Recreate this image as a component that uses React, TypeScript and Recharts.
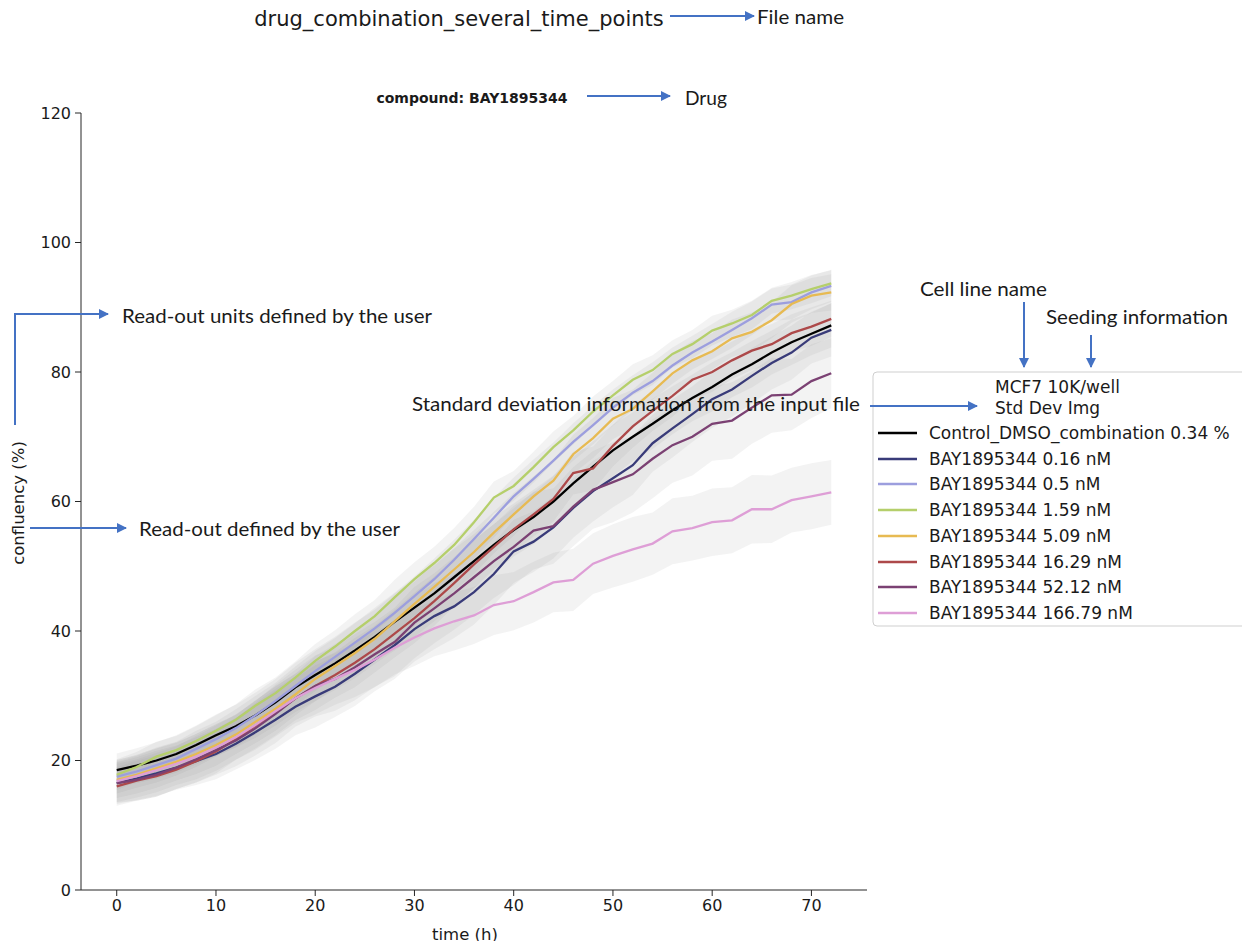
import React from 'react';
import { ComposedChart, Line, Area, XAxis, YAxis } from 'recharts';

// ---- data (time in hours, confluency in %) ----
const times = [0, 2, 4, 6, 8, 10, 12, 14, 16, 18, 20, 22, 24, 26, 28, 30, 32, 34, 36, 38, 40, 42, 44, 46, 48, 50, 52, 54, 56, 58, 60, 62, 64, 66, 68, 70, 72];

const ctrl = [18.5, 19.2, 20.0, 21.0, 22.4, 23.9, 25.3, 27.0, 29.0, 31.3, 33.2, 35.0, 37.0, 39.1, 41.4, 43.6, 45.8, 48.3, 50.8, 53.3, 55.6, 57.6, 60.0, 62.8, 65.4, 67.9, 70.0, 72.0, 74.1, 76.0, 77.7, 79.6, 81.2, 83.0, 84.6, 85.9, 87.2];
const d016 = [16.5, 17.2, 18.0, 18.9, 19.9, 21.0, 22.6, 24.4, 26.3, 28.3, 29.9, 31.4, 33.4, 35.6, 37.8, 40.3, 42.3, 43.8, 46.0, 48.8, 52.3, 53.8, 56.0, 59.0, 61.6, 63.6, 65.6, 69.0, 71.3, 73.5, 75.8, 77.3, 79.4, 81.4, 83.0, 85.3, 86.5];
const d05 = [17.5, 18.3, 19.3, 20.3, 21.8, 23.3, 25.0, 27.0, 29.2, 31.5, 33.8, 36.0, 38.2, 40.4, 42.8, 45.4, 48.0, 51.0, 54.2, 57.5, 60.8, 63.5, 66.3, 69.2, 71.8, 74.5, 76.8, 78.6, 81.0, 83.0, 84.7, 86.5, 88.3, 90.4, 90.8, 92.3, 93.3];
const d159 = [17.8, 19.0, 20.6, 21.6, 23.0, 24.6, 26.3, 28.5, 30.4, 32.8, 35.4, 37.6, 40.0, 42.3, 45.2, 48.0, 50.5, 53.3, 56.8, 60.6, 62.4, 65.3, 68.4, 71.0, 73.9, 76.4, 78.8, 80.3, 82.8, 84.3, 86.4, 87.5, 88.8, 91.0, 91.8, 92.8, 93.7];
const d509 = [17.0, 17.8, 18.8, 19.8, 21.0, 22.4, 24.0, 26.0, 28.0, 30.2, 32.6, 34.6, 36.6, 38.8, 41.5, 44.2, 46.8, 49.5, 52.2, 55.2, 58.0, 60.8, 63.2, 67.3, 69.8, 72.8, 74.3, 77.0, 79.8, 81.8, 83.2, 85.2, 86.2, 88.0, 90.5, 91.8, 92.3];
const d1629 = [16.0, 16.9, 17.6, 18.6, 19.9, 21.4, 23.3, 25.4, 27.5, 29.6, 31.5, 33.2, 35.1, 37.2, 39.6, 42.0, 44.6, 47.4, 50.3, 53.0, 55.7, 58.0, 60.4, 64.4, 65.1, 68.6, 71.6, 74.0, 76.3, 78.8, 80.0, 81.8, 83.3, 84.3, 86.0, 87.0, 88.2];
const d5212 = [16.5, 17.0, 17.8, 18.9, 20.2, 21.6, 23.1, 25.0, 27.2, 29.6, 31.5, 32.6, 34.4, 36.4, 38.3, 41.3, 43.5, 45.8, 48.3, 50.8, 53.0, 55.5, 56.2, 59.2, 61.8, 63.0, 64.2, 66.6, 68.7, 70.0, 72.0, 72.5, 74.5, 76.4, 76.5, 78.6, 79.8];
const d16679 = [16.8, 17.6, 18.5, 19.5, 20.6, 22.0, 23.6, 25.5, 27.6, 29.6, 31.2, 32.6, 34.0, 35.6, 37.4, 39.0, 40.4, 41.5, 42.4, 44.0, 44.6, 46.0, 47.5, 47.9, 50.4, 51.6, 52.6, 53.5, 55.4, 55.9, 56.8, 57.1, 58.8, 58.8, 60.2, 60.8, 61.4];

// standard deviations (image-based)
const ctrlSd = [2.6, 2.7, 2.8, 2.9, 3.0, 3.2, 3.3, 3.5, 3.6, 3.8, 4.0, 4.1, 4.3, 4.2, 4.4, 4.5, 4.3, 4.4, 4.2, 4.3, 4.1, 4.2, 4.0, 4.1, 3.9, 4.0, 3.8, 3.9, 3.7, 3.6, 3.8, 3.5, 3.6, 3.4, 3.5, 3.3, 3.4];
const d016Sd = [3.2, 3.3, 3.5, 3.4, 3.7, 3.9, 4.0, 4.3, 4.5, 4.4, 4.8, 4.7, 5.0, 4.9, 5.2, 5.0, 5.1, 4.9, 5.0, 4.8, 4.9, 4.7, 4.8, 4.6, 4.7, 4.5, 4.6, 4.4, 4.5, 4.3, 4.4, 4.2, 4.3, 4.1, 4.2, 4.0, 4.1];
const d05Sd = [2.6, 2.5, 2.7, 2.6, 2.8, 2.7, 2.9, 3.0, 2.8, 3.0, 3.1, 2.9, 3.0, 3.2, 3.1, 3.0, 3.2, 3.1, 3.0, 3.1, 2.9, 3.0, 2.8, 2.9, 3.0, 2.8, 2.7, 2.9, 2.8, 2.6, 2.7, 2.8, 2.6, 2.5, 2.7, 2.6, 2.5];
const d159Sd = [2.4, 2.3, 2.3, 2.2, 2.3, 2.4, 2.4, 2.5, 2.4, 2.5, 2.6, 2.5, 2.6, 2.5, 2.7, 2.6, 2.5, 2.6, 2.4, 2.5, 2.3, 2.4, 2.4, 2.2, 2.3, 2.2, 2.4, 2.3, 2.1, 2.2, 2.3, 2.1, 2.2, 2.0, 2.1, 2.2, 2.0];
const d509Sd = [2.8, 2.9, 3.0, 2.9, 3.1, 3.2, 3.0, 3.3, 3.4, 3.2, 3.5, 3.4, 3.3, 3.5, 3.6, 3.4, 3.5, 3.3, 3.4, 3.2, 3.3, 3.1, 3.2, 3.0, 3.1, 3.2, 3.0, 2.9, 3.1, 3.0, 2.8, 2.9, 3.0, 2.8, 2.9, 2.7, 2.8];
const d1629Sd = [3.0, 3.1, 3.2, 3.0, 3.3, 3.4, 3.2, 3.5, 3.6, 3.4, 3.7, 3.5, 3.8, 3.6, 3.7, 3.9, 3.8, 3.6, 3.7, 3.5, 3.6, 3.4, 3.5, 3.3, 3.4, 3.2, 3.3, 3.1, 3.2, 3.0, 3.1, 2.9, 3.0, 3.1, 2.9, 3.0, 2.8];
const d5212Sd = [3.0, 3.2, 3.4, 3.3, 3.6, 3.8, 4.0, 4.2, 4.5, 4.4, 4.7, 4.9, 5.1, 5.0, 5.3, 5.5, 5.4, 5.6, 5.8, 5.7, 5.9, 6.0, 5.8, 6.1, 6.0, 6.2, 5.9, 6.1, 5.8, 6.0, 5.7, 5.9, 5.6, 5.8, 5.5, 5.7, 5.4];
const d16679Sd = [3.2, 3.3, 3.4, 3.3, 3.5, 3.6, 3.5, 3.8, 3.9, 3.8, 4.1, 4.0, 4.2, 4.3, 4.1, 4.4, 4.3, 4.5, 4.4, 4.6, 4.5, 4.7, 4.6, 4.8, 4.7, 4.9, 5.0, 4.8, 5.1, 5.0, 5.2, 5.1, 5.3, 5.2, 5.0, 5.1, 5.0];

const seriesLabels = [
  'Control_DMSO_combination 0.34 %',
  'BAY1895344 0.16 nM',
  'BAY1895344 0.5 nM',
  'BAY1895344 1.59 nM',
  'BAY1895344 5.09 nM',
  'BAY1895344 16.29 nM',
  'BAY1895344 52.12 nM',
  'BAY1895344 166.79 nM',
];
const seriesKeys = ['ctrl', 'd016', 'd05', 'd159', 'd509', 'd1629', 'd5212', 'd16679'];
const seriesColors = ['#000000', '#393b79', '#9c9ede', '#b5cf6b', '#e7ba52', '#ad494a', '#7b4173', '#de9ed6'];
const seriesValues = [ctrl, d016, d05, d159, d509, d1629, d5212, d16679];
const seriesSds = [ctrlSd, d016Sd, d05Sd, d159Sd, d509Sd, d1629Sd, d5212Sd, d16679Sd];

const xTicks = [0, 10, 20, 30, 40, 50, 60, 70];
const yTicks = [0, 20, 40, 60, 80, 100, 120];

const rows = times.map((t, i) => {
  const r: any = { t };
  seriesKeys.forEach((k, s) => {
    const v = seriesValues[s][i];
    const sd = seriesSds[s][i];
    r[k] = v;
    r[k + 'Band'] = [v - sd, v + sd];
  });
  return r;
});

const MPL = '"DejaVu Sans", sans-serif';
const ANN = 'Lato, "Open Sans", sans-serif';
const BLUE = '#4472c4';
const TXT = '#1a1a1a';

// Overlay uses page coordinates (it is shifted by the 8px body margin)
function Overlay() {
  const legendY = [433, 459, 484, 510, 536, 562, 587, 613];
  return (
    <svg width={1250} height={949} style={{ position: 'absolute', left: -8, top: -8, pointerEvents: 'none', overflow: 'visible' }}>
      <defs>
        <marker id="ah" viewBox="0 0 10 10" refX="9" refY="5" markerWidth="10" markerHeight="10" markerUnits="userSpaceOnUse" orient="auto">
          <path d="M0,0 L10,5 L0,10 z" fill={BLUE} />
        </marker>
      </defs>
      <g>
        {/* figure title and axes title */}
        <text x={459} y={19} textAnchor="middle" dominantBaseline="central" fontFamily={MPL} fontSize={21} fill={TXT}>drug_combination_several_time_points</text>
        <text x={472} y={98} textAnchor="middle" dominantBaseline="central" fontFamily={MPL} fontSize={14} fontWeight="bold" fill={TXT}>compound: BAY1895344</text>
        {/* axis titles */}
        <text x={18} y={503} textAnchor="middle" dominantBaseline="central" fontFamily={MPL} fontSize={16.5} fill={TXT} transform="rotate(-90 18 503)">confluency (%)</text>
        <text x={465} y={934} textAnchor="middle" dominantBaseline="central" fontFamily={MPL} fontSize={16.5} fill={TXT}>time (h)</text>

        {/* legend */}
        <rect x={873} y={372} width={373} height={254} rx={4} fill="#ffffff" fillOpacity={0.85} stroke="#cfcfcf" strokeWidth={1} />
        <text x={995} y={387} dominantBaseline="central" fontFamily={MPL} fontSize={17} fill={TXT}>MCF7 10K/well</text>
        <text x={995} y={408} dominantBaseline="central" fontFamily={MPL} fontSize={17} fill={TXT}>Std Dev Img</text>
        {seriesLabels.map((lab, i) => (
          <g key={lab}>
            <line x1={878} x2={917} y1={legendY[i]} y2={legendY[i]} stroke={seriesColors[i]} strokeWidth={2.6} />
            <text x={929} y={legendY[i]} dominantBaseline="central" fontFamily={MPL} fontSize={17} fill={TXT}>{lab}</text>
          </g>
        ))}

        {/* annotations */}
        <line x1={670} y1={16} x2={754} y2={16} stroke={BLUE} strokeWidth={2} markerEnd="url(#ah)" />
        <text x={757} y={16} dominantBaseline="central" fontFamily={ANN} fontSize={19} fill={TXT} textLength={87} lengthAdjust="spacingAndGlyphs">File name</text>

        <line x1={587} y1={96} x2={670} y2={96} stroke={BLUE} strokeWidth={2} markerEnd="url(#ah)" />
        <text x={685} y={97} dominantBaseline="central" fontFamily={ANN} fontSize={19} fill={TXT} textLength={42} lengthAdjust="spacingAndGlyphs">Drug</text>

        <polyline points="15,425 15,314 108,314" fill="none" stroke={BLUE} strokeWidth={2} markerEnd="url(#ah)" />
        <text x={122} y={315} dominantBaseline="central" fontFamily={ANN} fontSize={19} fill={TXT} textLength={310} lengthAdjust="spacingAndGlyphs">Read-out units defined by the user</text>

        <line x1={30} y1={528} x2={126} y2={528} stroke={BLUE} strokeWidth={2} markerEnd="url(#ah)" />
        <text x={139} y={528} dominantBaseline="central" fontFamily={ANN} fontSize={19} fill={TXT} textLength={261} lengthAdjust="spacingAndGlyphs">Read-out defined by the user</text>

        <text x={412} y={403} dominantBaseline="central" fontFamily={ANN} fontSize={19} fill={TXT} textLength={448} lengthAdjust="spacingAndGlyphs">Standard deviation information from the input file</text>
        <line x1={870} y1={406} x2={977} y2={406} stroke={BLUE} strokeWidth={2} markerEnd="url(#ah)" />

        <text x={920} y={288} dominantBaseline="central" fontFamily={ANN} fontSize={19} fill={TXT} textLength={127} lengthAdjust="spacingAndGlyphs">Cell line name</text>
        <line x1={1024} y1={302} x2={1024} y2={367} stroke={BLUE} strokeWidth={2} markerEnd="url(#ah)" />

        <text x={1046} y={316} dominantBaseline="central" fontFamily={ANN} fontSize={19} fill={TXT} textLength={182} lengthAdjust="spacingAndGlyphs">Seeding information</text>
        <line x1={1091} y1={335} x2={1091} y2={367} stroke={BLUE} strokeWidth={2} markerEnd="url(#ah)" />
      </g>
    </svg>
  );
}

export default function App() {
  return (
    <div style={{ position: 'relative', width: 1234, height: 933, background: '#ffffff' }}>
      <ComposedChart width={1234} height={933} data={rows} margin={{ top: 105, right: 375, bottom: 21, left: 13 }}>
        <XAxis
          dataKey="t"
          type="number"
          domain={[-3.6, 75.6]}
          ticks={xTicks}
          allowDataOverflow
          height={30}
          tickSize={6}
          tickMargin={4}
          stroke="#262626"
          tick={{ fill: TXT, fontSize: 16, fontFamily: MPL }}
        />
        <YAxis
          type="number"
          domain={[0, 120]}
          ticks={yTicks}
          width={60}
          tickSize={6}
          tickMargin={4}
          stroke="#262626"
          tick={{ fill: TXT, fontSize: 16, fontFamily: MPL }}
        />
        {seriesKeys.map((k) => (
          <Area
            key={k + 'Band'}
            dataKey={k + 'Band'}
            type="linear"
            stroke="none"
            fill="#9c9c9c"
            fillOpacity={0.12}
            isAnimationActive={false}
            dot={false}
            activeDot={false}
          />
        ))}
        {seriesKeys.map((k, i) => (
          <Line
            key={k}
            dataKey={k}
            type="linear"
            stroke={seriesColors[i]}
            strokeWidth={2.3}
            dot={false}
            activeDot={false}
            isAnimationActive={false}
          />
        ))}
      </ComposedChart>
      <Overlay />
    </div>
  );
}
